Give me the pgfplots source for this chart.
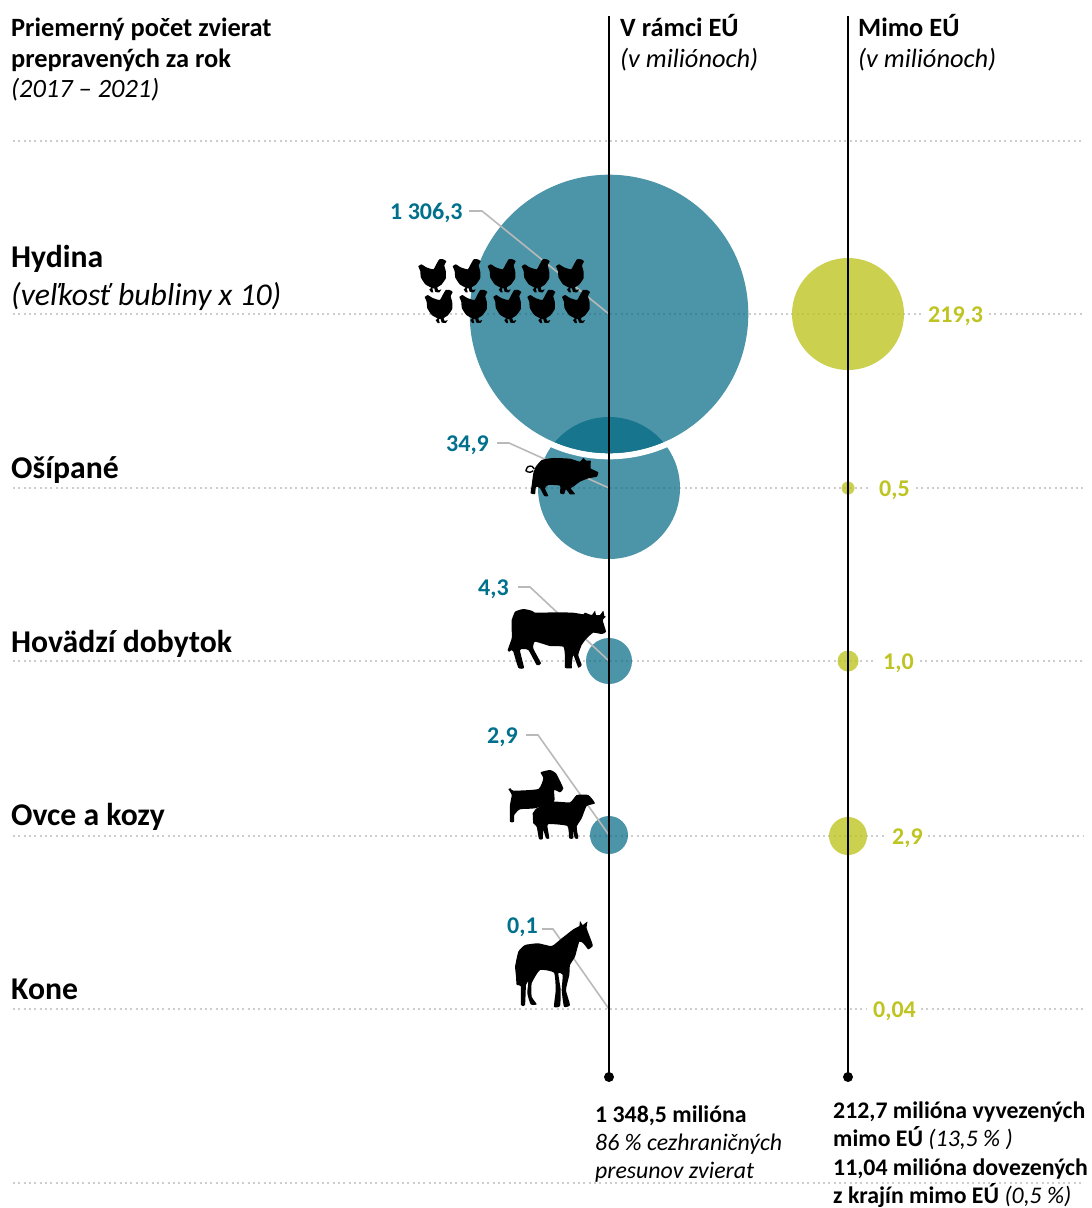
\documentclass[border=0pt]{standalone}
\usepackage{pgfplots}
\pgfplotsset{compat=1.18}
\usepackage{fontspec}
\setmainfont{Carlito}
\definecolor{tealb}{HTML}{006782}
\definecolor{tealt}{HTML}{00708C}
\definecolor{yel}{HTML}{BEC422}
\definecolor{gridc}{HTML}{CDCDCD}
\definecolor{lead}{HTML}{B9B9B9}
\pgfdeclareplotmark{disc}{\pgfpathcircle{\pgfpointorigin}{\pgfplotmarksize}\pgfusepathqfill}
\pgfplotsset{icon/.style={fill=black,draw=none,smooth,tension=0.3}}
\newcommand{\lab}[4][black]{\node[anchor=base west,inner sep=0pt,text=#1,font=\fontsize{#2}{#2}\selectfont] at (axis cs:#3) {#4};}
\newcommand{\dotrow}[1]{\addplot[gridc,line width=2pt,dash pattern=on 2pt off 3.33pt] coordinates {#1};}
\newcommand{\bub}[4]{\addplot[only marks,mark=disc,mark size=#2pt,mark options={fill=#1,opacity=#3}] coordinates {(#4)};}
\newcommand{\hen}[2]{\addplot[icon,xshift=#1pt,yshift=-#2pt] coordinates {(1,8)(4,6)(9,9)(16,11)(19,6)(22,1)(26,1)(29,3)(27,7)(28.5,13)(28.5,20)(24,26.5)(20,29)(21,32)(24,31)(22,34)(18,33.5)(17,30)(15,30)(16,34)(14,34)(12,31)(14,29.5)(8,26)(3.5,19)(3,13)(1,8)};}
\begin{document}
\begin{tikzpicture}
\begin{axis}[width=1092pt,height=1208pt,scale only axis,hide axis,xmin=0,xmax=1092,ymin=0,ymax=1208,y dir=reverse,clip mode=individual]
\path (axis cs:0,0) rectangle (axis cs:1092,1208);
% dotted rows
\dotrow{(13,141)(1084,141)}
\dotrow{(13,488)(868,488)}\dotrow{(916,488)(1084,488)}
\dotrow{(13,661)(876,661)}\dotrow{(920,661)(1084,661)}
\dotrow{(13,836)(885,836)}\dotrow{(928,836)(1084,836)}
\dotrow{(13,1009)(866,1009)}\dotrow{(921,1009)(1084,1009)}
\dotrow{(13,1183)(1084,1183)}
% pig bubble
\bub{tealb}{71}{0.7}{609,488}
% white ring round poultry bubble
\addplot[only marks,mark=o,mark size=142.3pt,mark options={draw=white,line width=6pt}] coordinates {(609,314)};
\dotrow{(13,314)(921,314)}\dotrow{(989,314)(1084,314)}
\bub{tealb}{139.3}{0.7}{609,314}
\bub{tealb}{23}{0.7}{609,661}
\bub{tealb}{19}{0.7}{609,835}
\bub{tealb}{1}{0.7}{609,1009}
\bub{yel}{56}{0.8}{848,314}
\bub{yel}{6.5}{0.8}{848,488}
\bub{yel}{10.5}{0.8}{848,661}
\bub{yel}{19}{0.8}{848,836}
% leaders
\addplot[lead,line width=1.6pt] coordinates {(469,211)(482,211)(609,314)};
\addplot[lead,line width=1.6pt] coordinates {(497,443)(509,443)(609,488)};
\addplot[lead,line width=1.6pt] coordinates {(518,587)(530,587)(609,661)};
\addplot[lead,line width=1.6pt] coordinates {(526,735)(538,735)(609,835)};
\addplot[lead,line width=1.6pt] coordinates {(542,929)(553,929)(609,1009)};
% vertical lines
\addplot[black,line width=2pt] coordinates {(609,16)(609,1077)};
\addplot[black,line width=2pt] coordinates {(848,16)(848,1077)};
\addplot[only marks,mark=disc,mark size=5pt,mark options={fill=black}] coordinates {(609,1077)(848,1077)};
% hens
\hen{417.3}{258.3}\hen{451.7}{258.3}\hen{486.7}{258.3}\hen{520.7}{258.3}\hen{555}{258.3}
\hen{423.7}{289}\hen{458.3}{289}\hen{492.3}{289}\hen{526.3}{289}\hen{561}{289}
% pig
\addplot[icon] coordinates {(535.7,466.7)(541.7,460)(553.3,458)(570,458.7)(580,461.7)(583.3,458)(586,460.7)(590.7,460.7)(590.7,468.3)(598.3,472.3)(596.7,476.7)(588.3,478.3)(580,481.7)(573.3,486.7)(570.7,488.3)(575,494)(570,494.3)(566,489.3)(564,494)(560,493.3)(560,485.7)(548.3,485)(545,488.3)(548.3,496)(544.3,496)(540,488.3)(536,486.7)(535,494)(530.7,493.3)(531.7,485)(533.3,473.3)(535.7,466.7)};
\addplot[black,line width=1.4pt,smooth] coordinates {(533.3,470.7)(530,472.3)(526,470.7)(528,466.7)(532,466.3)(534.3,469)};
% cow
\addplot[icon] coordinates {(511.7,620)(515,611.7)(523.3,609)(531.7,610.7)(535,612.7)(556.7,612.3)(573.3,612.7)(583.3,614.3)(585,612.7)(591.7,615)(595,610.7)(596,615)(600,615)(603.3,610.7)(604.3,616)(606,616.7)(602.7,620)(606,631.7)(601.7,634)(593.3,632.7)(586.7,638.3)(581.7,645)(578.3,655)(581.7,665)(578.3,667.7)(573.3,655)(571.7,665)(571.7,668.3)(565,667.7)(565,656.7)(563.3,646.7)(550,646)(535,641.7)(533.3,648.3)(541,663.3)(536.7,665)(528.3,650)(520,650)(524,667.7)(518.3,667.7)(513.3,651.7)(511.7,650)(509.3,651.7)(507.7,650)(511.7,638.3)(511.7,630)(511.7,620)};
% goat and sheep
\addplot[icon] coordinates {(508.3,789)(510.7,788.3)(513.3,790.7)(538.3,789)(543.3,778.3)(540.7,772.3)(550,770)(556,773.3)(563.3,788.3)(560,792.3)(554,790)(554,801.7)(535,808.3)(520,809.3)(514.3,815)(514,821.7)(510,821.7)(510,805)(511.7,795)(508.3,789)};
\addplot[icon] coordinates {(532.7,813.3)(536.7,808.3)(553.3,801.7)(570,802.3)(576.7,795)(588.3,795)(595,803.3)(586.7,806)(581.7,818.3)(576.7,826.7)(578.3,838.3)(575,838.3)(572.7,830)(573.3,838.3)(569.3,838.3)(567.3,826)(548.3,824)(547.7,828.3)(549.3,838.3)(546,838.3)(543.3,830)(542.7,839)(539,839)(536.7,826.7)(533.3,823.3)(532.7,813.3)};
% horse
\addplot[icon] coordinates {(515,966.7)(518.3,951.7)(525,945)(538.3,943.3)(551.7,946)(561.7,938.3)(573.3,929.3)(579.3,926)(580,921)(582.7,925)(587.3,921.7)(586.7,928.3)(591.7,941.7)(592.7,946)(588.3,949.3)(583.3,943.3)(579.3,941.7)(575,956.7)(570,965)(569.3,975)(566,990)(570,1005)(564,1006.7)(561.7,990)(562.7,975)(558.3,973.3)(560.7,990)(560,1006)(554,1006.7)(555.7,990)(554,972.7)(540,970)(531.7,983.3)(531.7,996.7)(536.7,1004.3)(530.7,1004.3)(527.3,993.3)(528.3,981.7)(526,985)(525,1005)(521,1005)(520.7,986)(516.7,985)(516,976.7)(515,966.7)};
% header text
\lab{26.4}{11,36}{\textbf{Priemerný počet zvierat}}
\lab{26.4}{11,67}{\textbf{prepravených za rok}}
\lab{26.4}{11,97}{\textit{(2017 – 2021)}}
\lab{26.4}{620,36}{\textbf{V rámci EÚ}}
\lab{26.4}{620,67}{\textit{(v miliónoch)}}
\lab{26.4}{858,36}{\textbf{Mimo EÚ}}
\lab{26.4}{858,67}{\textit{(v miliónoch)}}
% categories
\lab{31.7}{11,267}{\textbf{Hydina}}
\lab{31.7}{11,305}{\textit{(veľkosť bubliny x 10)}}
\lab{31.7}{11,478}{\textbf{Ošípané}}
\lab{31.7}{11,652}{\textbf{Hovädzí dobytok}}
\lab{31.7}{11,825}{\textbf{Ovce a kozy}}
\lab{31.7}{11,999}{\textbf{Kone}}
% values
\lab[tealt]{24}{390,219}{\textbf{1 306,3}}
\lab[tealt]{24}{446,451}{\textbf{34,9}}
\lab[tealt]{24}{478,595}{\textbf{4,3}}
\lab[tealt]{24}{487,743}{\textbf{2,9}}
\lab[tealt]{24}{507,933}{\textbf{0,1}}
\lab[yel]{24}{928,322}{\textbf{219,3}}
\lab[yel]{24}{879,496}{\textbf{0,5}}
\lab[yel]{24}{883,669}{\textbf{1,0}}
\lab[yel]{24}{892,844}{\textbf{2,9}}
\lab[yel]{24}{873,1017}{\textbf{0,04}}
% bottom
\lab{23.8}{595,1122}{\textbf{1 348,5 milióna}}
\lab{23.8}{595,1150}{\textit{86 \% cezhraničných}}
\lab{23.8}{595,1178}{\textit{presunov zvierat}}
\lab{23.8}{833,1118}{\textbf{212,7 milióna vyvezených}}
\lab{23.8}{833,1146}{\textbf{mimo EÚ} \textit{(13,5 \% )}}
\lab{23.8}{833,1175}{\textbf{11,04 milióna dovezených}}
\lab{23.8}{833,1203}{\textbf{z krajín mimo EÚ} \textit{(0,5 \%)}}
\end{axis}
\end{tikzpicture}
\end{document}
